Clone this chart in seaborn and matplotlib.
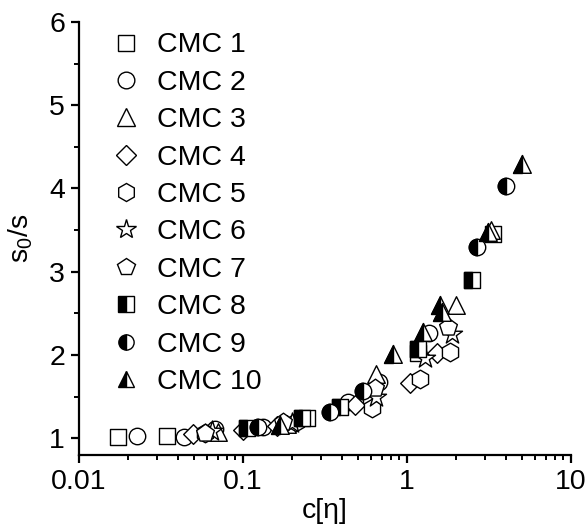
import numpy as np
import pandas as pd
import matplotlib
matplotlib.use("Agg")
import matplotlib.pyplot as plt
from matplotlib.markers import MarkerStyle
from matplotlib.lines import Line2D
from matplotlib.ticker import FixedLocator, MultipleLocator, FuncFormatter
import seaborn as sns

# data
labels = ["CMC 1", "CMC 2", "CMC 3", "CMC 4", "CMC 5",
          "CMC 6", "CMC 7", "CMC 8", "CMC 9", "CMC 10"]
markers = ["s", "o", "^", "D", "h", "*", "p", "s", "o", "^"]
half_filled = [False] * 7 + [True] * 3

cmc1_x = [0.0173, 0.0344, 0.245, 0.60, 1.17, 3.34]
cmc1_y = [1.02, 1.03, 1.24, 1.50, 2.03, 3.45]
cmc2_x = [0.0226, 0.0437, 0.0675, 0.132, 0.437, 0.68, 1.37]
cmc2_y = [1.03, 1.02, 1.11, 1.14, 1.44, 1.68, 2.27]
cmc3_x = [0.0705, 0.185, 0.65, 2.0, 3.25]
cmc3_y = [1.08, 1.17, 1.77, 2.60, 3.50]
cmc4_x = [0.0495, 0.100, 0.161, 0.48, 1.04, 1.52]
cmc4_y = [1.05, 1.10, 1.15, 1.40, 1.67, 2.03]
cmc5_x = [0.0587, 0.21, 0.61, 1.20, 1.83]
cmc5_y = [1.06, 1.20, 1.37, 1.71, 2.04]
cmc6_x = [0.065, 0.20, 0.65, 1.29, 1.89]
cmc6_y = [1.09, 1.18, 1.50, 1.97, 2.25]
cmc7_x = [0.0587, 0.175, 0.64, 1.78]
cmc7_y = [1.06, 1.20, 1.60, 2.34]
cmc8_x = [0.1057, 0.229, 0.389, 1.17, 2.49]
cmc8_y = [1.12, 1.24, 1.38, 2.07, 2.90]
cmc9_x = [0.124, 0.339, 0.54, 2.68, 4.02]
cmc9_y = [1.14, 1.32, 1.57, 3.30, 4.03]
cmc10_x = [0.168, 0.822, 1.26, 1.59, 1.64, 3.11, 5.0]
cmc10_y = [1.16, 2.01, 2.28, 2.60, 2.52, 3.48, 4.29]

xs = [cmc1_x, cmc2_x, cmc3_x, cmc4_x, cmc5_x, cmc6_x, cmc7_x, cmc8_x, cmc9_x, cmc10_x]
ys = [cmc1_y, cmc2_y, cmc3_y, cmc4_y, cmc5_y, cmc6_y, cmc7_y, cmc8_y, cmc9_y, cmc10_y]

sns.set_style("ticks")
plt.rcParams["font.family"] = ["Liberation Sans", "DejaVu Sans"]
plt.rcParams["text.color"] = "black"
plt.rcParams["axes.labelcolor"] = "black"
plt.rcParams["xtick.color"] = "black"
plt.rcParams["ytick.color"] = "black"

fig = plt.figure(figsize=(5.87, 5.25), dpi=100)
ax = fig.add_axes([0.1346, 0.1333, 0.838, 0.825])

sizes = {"s": 120, "o": 140, "^": 160, "D": 100, "h": 180, "*": 230, "p": 180}

for lab, m, half, x, y in zip(labels, markers, half_filled, xs, ys):
    df = pd.DataFrame({"x": x, "y": y})
    s = sizes[m]
    if half:
        # open outline first, then the filled left half on top
        sns.scatterplot(data=df, x="x", y="y", ax=ax, marker=m, s=s,
                        facecolor="white", edgecolor="black", linewidth=1.0, zorder=3)
        sns.scatterplot(data=df, x="x", y="y", ax=ax,
                        marker=MarkerStyle(m, fillstyle="left"), s=s,
                        color="black", edgecolor="black", linewidth=1.0, zorder=3)
    else:
        sns.scatterplot(data=df, x="x", y="y", ax=ax, marker=m, s=s,
                        facecolor="white", edgecolor="black", linewidth=1.0, zorder=3)

ax.set_xscale("log")
ax.set_xlim(0.01, 10)
ax.set_ylim(0.8, 6)
ax.xaxis.set_major_formatter(FuncFormatter(lambda v, p: f"{v:g}"))
ax.yaxis.set_major_locator(FixedLocator([1, 2, 3, 4, 5, 6]))
ax.yaxis.set_minor_locator(MultipleLocator(0.5))

for side in ["top", "right"]:
    ax.spines[side].set_visible(False)
for side in ["left", "bottom"]:
    ax.spines[side].set_linewidth(1.6)
    ax.spines[side].set_color("black")

ax.tick_params(axis="both", which="major", direction="out", length=6, width=1.6,
               labelsize=20.5, color="black", labelcolor="black", pad=4)
ax.tick_params(axis="both", which="minor", direction="out", length=3.5, width=1.4,
               color="black")

ax.set_xlabel("c[η]", fontsize=20.5, labelpad=2, color="black")
ax.set_ylabel("s$_\\mathregular{0}$/s", fontsize=20.5, labelpad=10, color="black")

handles = []
for m, half in zip(markers, half_filled):
    if half:
        h = Line2D([], [], linestyle="", marker=m, markersize=11 if m != "^" else 12,
                   markerfacecolor="black", markerfacecoloralt="white",
                   fillstyle="left", markeredgecolor="black", markeredgewidth=1.0)
    else:
        ms = {"s": 11, "o": 12, "^": 13, "D": 10, "h": 13, "*": 15, "p": 13}[m]
        h = Line2D([], [], linestyle="", marker=m, markersize=ms,
                   markerfacecolor="white", markeredgecolor="black", markeredgewidth=1.0)
    handles.append(h)

leg = ax.legend(handles, labels, loc="upper left", bbox_to_anchor=(0.02, 1.015),
                frameon=False, fontsize=20.5, labelspacing=0.4, handletextpad=0.4,
                handlelength=1.4, borderaxespad=0.2)
for t in leg.get_texts():
    t.set_color("black")

fig.savefig("out.png", dpi=100)
